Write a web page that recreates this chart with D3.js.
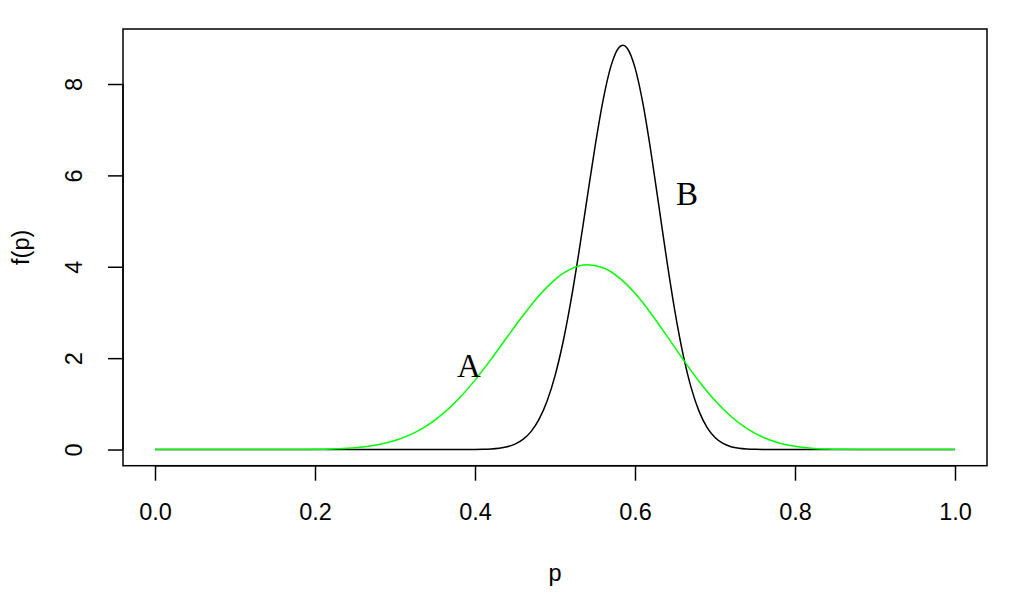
<!DOCTYPE html>
<html>
<head>
<meta charset="utf-8">
<script src="https://cdn.jsdelivr.net/npm/d3@7"></script>
<style>
  html, body { margin: 0; padding: 0; background: #fff; }
  svg { display: block; }
  text { font-family: "Liberation Sans", Arial, Helvetica, sans-serif; fill: #000; }
</style>
</head>
<body>
<svg id="chart" width="1020" height="603"></svg>
<script>
// ---- data ----
const pA = [0, 0.10, 0.15, 0.18, 0.20, 0.22, 0.24, 0.26, 0.28, 0.30, 0.32, 0.34, 0.36, 0.38, 0.40,
            0.42, 0.44, 0.46, 0.48, 0.50, 0.52, 0.54, 0.56, 0.58, 0.60, 0.62, 0.64, 0.66, 0.68,
            0.70, 0.72, 0.74, 0.76, 0.78, 0.80, 0.82, 0.84, 0.86, 0.90, 0.95, 1.0];
const fA = [0, 0, 0.0003, 0.0015, 0.0044, 0.0115, 0.0267, 0.0564, 0.1094, 0.1968, 0.331, 0.524, 0.786, 1.119, 1.519,
            1.973, 2.456, 2.934, 3.368, 3.720, 3.953, 4.043, 3.978, 3.763, 3.418, 2.978, 2.482, 1.975, 1.494,
            1.071, 0.723, 0.457, 0.268, 0.144, 0.0703, 0.0304, 0.0114, 0.0036, 0.0002, 0, 0];

const pB = [0, 0.20, 0.30, 0.35, 0.38, 0.40, 0.41, 0.42, 0.43, 0.44, 0.45, 0.46, 0.47, 0.48, 0.49, 0.50,
            0.51, 0.52, 0.53, 0.54, 0.55, 0.56, 0.57, 0.58, 0.585, 0.59, 0.60, 0.61, 0.62, 0.63, 0.64,
            0.65, 0.66, 0.67, 0.68, 0.69, 0.70, 0.71, 0.72, 0.73, 0.74, 0.75, 0.76, 0.80, 0.90, 1.0];
const fB = [0, 0, 0, 0, 0.0004, 0.0025, 0.0061, 0.0138, 0.0299, 0.0614, 0.1197, 0.222, 0.392, 0.6585, 1.055, 1.612,
            2.348, 3.265, 4.331, 5.484, 6.625, 7.637, 8.397, 8.801, 8.849, 8.790, 8.358, 7.563, 6.504, 5.311, 4.112,
            3.014, 2.088, 1.365, 0.840, 0.485, 0.263, 0.133, 0.0624, 0.0272, 0.011, 0.0041, 0.0014, 0, 0, 0];

const xTicks = [0.0, 0.2, 0.4, 0.6, 0.8, 1.0];
const yTicks = [0, 2, 4, 6, 8];
const labels = [{text: "A", p: 0.3925, f: 1.83}, {text: "B", p: 0.665, f: 5.6}];

// ---- layout ----
const svg = d3.select("#chart");
svg.append("rect").attr("width", 1020).attr("height", 603).attr("fill", "#fff");

const box = {left: 123, right: 987, top: 29, bottom: 465.7};
const x = d3.scaleLinear().domain([-0.04, 1.04]).range([box.left, box.right]);
const y = d3.scaleLinear().domain([-0.354, 9.204]).range([box.bottom, box.top]);

const FS = 23.5;

// x axis
const xAxis = svg.append("g").attr("transform", `translate(0,${box.bottom})`)
  .call(d3.axisBottom(x).tickValues(xTicks).tickFormat(d3.format(".1f")).tickSize(15).tickPadding(0));
xAxis.select(".domain").attr("d", `M${x(0)},0H${x(1)}`).attr("stroke", "#000").attr("stroke-width", 1.5);
xAxis.selectAll(".tick line").attr("stroke", "#000").attr("stroke-width", 1.5);
xAxis.selectAll(".tick text").attr("y", 54.5).attr("dy", 0).attr("font-size", FS).attr("fill", "#000")
  .attr("font-family", "Liberation Sans, Arial, sans-serif");

// y axis
const yAxis = svg.append("g").attr("transform", `translate(${box.left},0)`)
  .call(d3.axisLeft(y).tickValues(yTicks).tickFormat(d3.format("d")).tickSize(15).tickPadding(0));
yAxis.select(".domain").attr("d", `M0,${y(0)}V${y(8)}`).attr("stroke", "#000").attr("stroke-width", 1.5);
yAxis.selectAll(".tick line").attr("stroke", "#000").attr("stroke-width", 1.5);
yAxis.selectAll(".tick text")
  .attr("x", 0).attr("y", 0).attr("dy", 0)
  .attr("text-anchor", "middle")
  .attr("transform", "translate(-41.5,0) rotate(-90)")
  .attr("font-size", FS).attr("fill", "#000")
  .attr("font-family", "Liberation Sans, Arial, sans-serif");

// plot box
svg.append("rect")
  .attr("x", box.left).attr("y", box.top)
  .attr("width", box.right - box.left).attr("height", box.bottom - box.top)
  .attr("fill", "none").attr("stroke", "#000").attr("stroke-width", 1.5);

// axis titles
svg.append("text").attr("x", (x(0) + x(1)) / 2).attr("y", 581)
  .attr("text-anchor", "middle").attr("font-size", FS).text("p");
svg.append("text")
  .attr("transform", `translate(29,${(box.top + box.bottom) / 2}) rotate(-90)`)
  .attr("text-anchor", "middle").attr("font-size", FS).text("f(p)");

// curves
const line = d3.line().x(d => x(d[0])).y(d => y(d[1])).curve(d3.curveMonotoneX);
svg.append("path")
  .datum(pB.map((p, i) => [p, fB[i]]))
  .attr("d", line).attr("fill", "none").attr("stroke", "#000").attr("stroke-width", 1.5);
svg.append("path")
  .datum(pA.map((p, i) => [p, fA[i]]))
  .attr("d", line).attr("fill", "none").attr("stroke", "#00ff00").attr("stroke-width", 1.5);

// curve labels
svg.selectAll("text.curve-label").data(labels).enter().append("text")
  .attr("class", "curve-label")
  .attr("x", d => x(d.p)).attr("y", d => y(d.f))
  .attr("dy", "0.34em")
  .attr("text-anchor", "middle")
  .attr("font-size", 33)
  .style("font-family", "'Liberation Serif', serif")
  .text(d => d.text);
</script>
</body>
</html>
